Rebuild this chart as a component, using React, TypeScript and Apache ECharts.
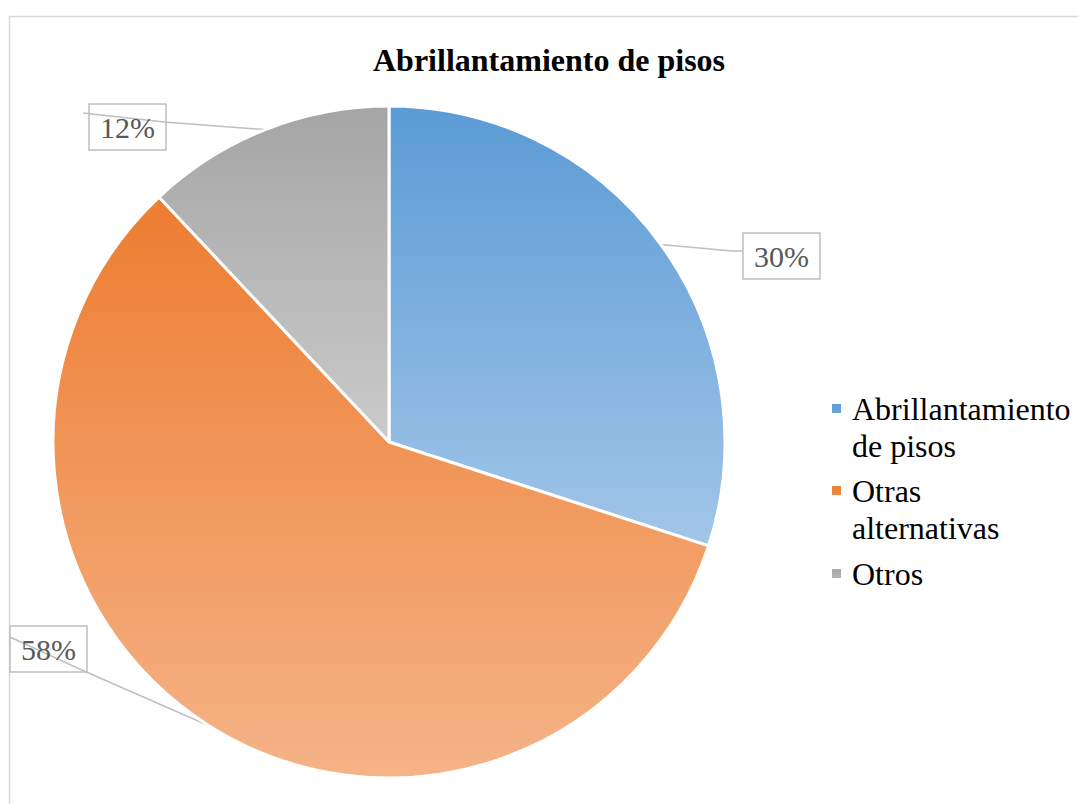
import React, { useEffect, useRef } from 'react';
import * as echarts from 'echarts';

const categories = ['Abrillantamiento de pisos', 'Otras alternativas', 'Otros'];
const legendLabels = ['Abrillantamiento\nde pisos', 'Otras\nalternativas', 'Otros'];
const values = [30, 58, 12];
const topColors = ['#5B9BD5', '#ED7D31', '#A5A5A5'];
const bottomColors = ['#A2C6E8', '#F5B387', '#CBCBCB'];
const titleText = 'Abrillantamiento de pisos';

const CX = 389;
const CY = 442;
const R = 336;
const labelBoxes = [[743, 233], [10, 626], [89, 104]];
const leaderEnds = [
  [[732, 251], [743, 251]],
  [[84, 671], [10, 637]],
  [[164, 122], [83, 113]],
];

const ICON_TWO = 'path://M0,0H11V11H0Z M0,48';
const ICON_ONE = 'path://M0,13H11V24H0Z M0,0 M0,37';

export default function App() {
  const ref = useRef<HTMLDivElement>(null);
  useEffect(() => {
    if (!ref.current) return;
    const chart = echarts.init(ref.current, null, { renderer: 'svg' });
    const total = values.reduce((a, b) => a + b, 0);
    const midAngles: number[] = [];
    let acc = 0;
    values.forEach((v) => {
      const a0 = (acc / total) * Math.PI * 2;
      acc += v;
      const a1 = (acc / total) * Math.PI * 2;
      midAngles.push((a0 + a1) / 2);
    });
    const serif = 'Liberation Serif, Times New Roman, serif';
    chart.setOption({
      animation: false,
      backgroundColor: '#fff',
      title: {
        text: titleText,
        left: 373,
        top: 44,
        padding: 0,
        textStyle: { fontFamily: serif, fontSize: 32, fontWeight: 'bold', color: '#000' },
      },
      graphic: [
        {
          type: 'rect',
          silent: true,
          z: -10,
          shape: { x: 9.5, y: 16.5, width: 1200, height: 1000 },
          style: { fill: 'none', stroke: '#D9D9D9', lineWidth: 1.5 },
        },
      ],
      legend: {
        orient: 'vertical',
        left: 830,
        top: 390,
        padding: 0,
        itemGap: 8,
        itemWidth: 11,
        itemHeight: 48,
        symbolKeepAspect: true,
        selectedMode: false,
        data: categories.map((c, i) => ({
          name: c,
          icon: legendLabels[i].includes('\n') ? ICON_TWO : ICON_ONE,
        })),
        formatter: (name: string) => legendLabels[categories.indexOf(name)],
        textStyle: {
          fontFamily: serif,
          fontSize: 32,
          lineHeight: 37,
          color: '#000',
          padding: [0, 0, 0, 5],
        },
      },
      series: [
        {
          type: 'pie',
          center: [CX, CY],
          radius: R,
          startAngle: 90,
          clockwise: true,
          avoidLabelOverlap: false,
          emphasis: { disabled: true },
          itemStyle: { borderColor: '#fff', borderWidth: 3 },
          data: categories.map((c, i) => ({
            name: c,
            value: values[i],
            itemStyle: {
              color: {
                type: 'linear',
                x: 0,
                y: 0,
                x2: 0,
                y2: 1,
                colorStops: [
                  { offset: 0, color: topColors[i] },
                  { offset: 1, color: bottomColors[i] },
                ],
              },
            },
          })),
          label: {
            show: true,
            position: 'outside',
            formatter: (p: any) => Math.round(p.percent) + '%',
            fontFamily: serif,
            fontSize: 30,
            lineHeight: 34,
            color: '#595959',
            borderColor: '#BFBFBF',
            borderWidth: 1.5,
            padding: [6, 11],
          },
          labelLine: {
            show: true,
            length: 10,
            length2: 10,
            lineStyle: { color: '#BFBFBF', width: 1.5 },
          },
          labelLayout: (params: any) => {
            const i = params.dataIndex;
            const [bx, by] = labelBoxes[i];
            const m = midAngles[i];
            const ex = CX + R * Math.sin(m);
            const ey = CY - R * Math.cos(m);
            return {
              x: bx,
              y: by,
              align: 'left',
              verticalAlign: 'top',
              labelLinePoints: [[ex, ey], ...leaderEnds[i]],
            };
          },
        },
      ],
    });
    return () => chart.dispose();
  }, []);
  return (
    <div
      ref={ref}
      style={{ position: 'fixed', left: 0, top: 0, width: 1078, height: 804, background: '#fff' }}
    />
  );
}
